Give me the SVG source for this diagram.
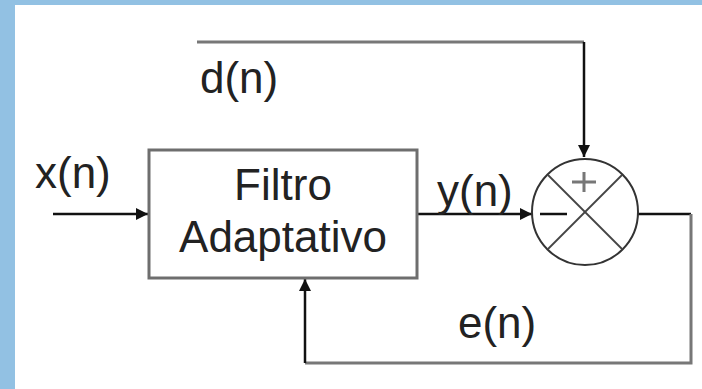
<svg xmlns="http://www.w3.org/2000/svg" width="702" height="389" viewBox="0 0 702 389">
  <style>
    .lbl { font-family: "Liberation Sans", Arial, sans-serif; font-size: 44px; fill: #222; }
    .wire { fill: none; stroke: #111; stroke-width: 2.5; }
    .gwire { fill: none; stroke: #777; stroke-width: 3; }
    .blk { fill: #fff; stroke: #6e6e6e; stroke-width: 3; }
    .sum { fill: #fff; stroke: #333; stroke-width: 2; }
    .cross { stroke: #444; stroke-width: 1.8; }
  </style>
  <defs>
    <marker id="arr" viewBox="0 0 10 10" refX="10" refY="5" markerWidth="12" markerHeight="12" markerUnits="userSpaceOnUse" orient="auto">
      <path d="M0,0 L10,5 L0,10 z" fill="#111"/>
    </marker>
  </defs>

  <!-- page frame -->
  <rect x="0" y="0" width="702" height="389" fill="#fff"/>
  <rect x="0" y="0" width="702" height="5" fill="#92C1E3"/>
  <rect x="0" y="0" width="15" height="389" fill="#92C1E3"/>

  <!-- connectors -->
  <g id="connectors">
    <path class="gwire" d="M197,42 H584"/>
    <path class="wire" d="M584,42 V157" marker-end="url(#arr)"/>
    <path class="wire" d="M53,214 H148" marker-end="url(#arr)"/>
    <path class="wire" d="M418,214 H532" marker-end="url(#arr)"/>
    <path class="wire" d="M638,214 H691"/>
    <path class="gwire" d="M691,214 V363 H305"/>
    <path class="wire" d="M305,363 V279" marker-end="url(#arr)"/>
  </g>

  <!-- adaptive filter block -->
  <g id="filtro">
    <rect class="blk" x="149" y="150" width="268" height="128"/>
    <text class="lbl" x="283" y="200" text-anchor="middle">Filtro</text>
    <text class="lbl" x="283" y="252" text-anchor="middle">Adaptativo</text>
  </g>

  <!-- summing junction -->
  <g id="somador">
    <circle class="sum" cx="585" cy="212" r="53"/>
    <line class="cross" x1="548" y1="175" x2="622" y2="249"/>
    <line class="cross" x1="622" y1="175" x2="548" y2="249"/>
    <path d="M572,182 H596 M584,172 V192" stroke="#777" stroke-width="3"/>
    <path d="M540,214 H567" stroke="#111" stroke-width="2.5"/>
  </g>

  <!-- signal labels -->
  <g id="labels">
    <text class="lbl" x="35" y="188">x(n)</text>
    <text class="lbl" x="437" y="206">y(n)</text>
    <text class="lbl" x="200" y="93">d(n)</text>
    <text class="lbl" x="458" y="338">e(n)</text>
  </g>
</svg>
